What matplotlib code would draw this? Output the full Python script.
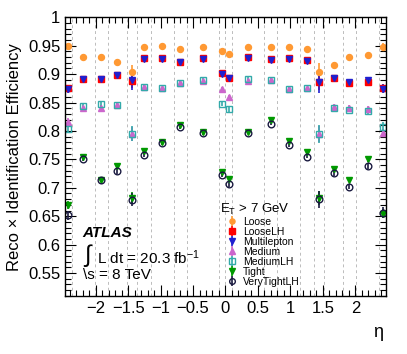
import numpy as np
import matplotlib
matplotlib.use("Agg")
import matplotlib.pyplot as plt
from matplotlib.ticker import MultipleLocator

plt.rcParams['font.family'] = ['Liberation Sans', 'DejaVu Sans']
plt.rcParams['mathtext.fontset'] = 'custom'
plt.rcParams['mathtext.rm'] = 'Liberation Sans'
plt.rcParams['mathtext.it'] = 'Liberation Sans:italic'

# eta bins
edges = [-2.47, -2.37, -2.01, -1.81, -1.52, -1.37, -1.15, -0.8, -0.6, -0.1, 0.0,
         0.1, 0.6, 0.8, 1.15, 1.37, 1.52, 1.81, 2.01, 2.37, 2.47]

loose = [0.950, 0.930, 0.931, 0.921, 0.904, 0.948, 0.950, 0.944, 0.948, 0.941,
         0.935, 0.948, 0.947, 0.948, 0.945, 0.904, 0.917, 0.930, 0.934, 0.948]
loose_err = [0.005, 0.003, 0.003, 0.005, 0.013, 0.003, 0.002, 0.002, 0.002, 0.003,
             0.003, 0.002, 0.002, 0.002, 0.003, 0.015, 0.005, 0.003, 0.004, 0.006]

looselh = [0.875, 0.892, 0.892, 0.898, 0.888, 0.928, 0.928, 0.922, 0.928, 0.902,
           0.894, 0.930, 0.926, 0.928, 0.925, 0.886, 0.894, 0.885, 0.886, 0.875]
looselh_err = [0.006, 0.004, 0.004, 0.005, 0.012, 0.004, 0.003, 0.003, 0.003, 0.004,
               0.004, 0.003, 0.003, 0.003, 0.004, 0.014, 0.005, 0.004, 0.005, 0.007]

multilepton = [0.874, 0.891, 0.891, 0.899, 0.889, 0.927, 0.927, 0.921, 0.927, 0.901,
               0.893, 0.929, 0.925, 0.927, 0.924, 0.887, 0.893, 0.886, 0.889, 0.874]
multilepton_err = [0.007, 0.004, 0.004, 0.005, 0.017, 0.004, 0.003, 0.003, 0.003, 0.004,
                   0.004, 0.003, 0.003, 0.003, 0.005, 0.020, 0.006, 0.004, 0.006, 0.008]

medium = [0.816, 0.840, 0.841, 0.845, 0.795, 0.878, 0.875, 0.885, 0.888, 0.873,
          0.860, 0.888, 0.890, 0.874, 0.875, 0.794, 0.842, 0.841, 0.839, 0.797]
medium_err = [0.006, 0.004, 0.004, 0.005, 0.012, 0.003, 0.003, 0.003, 0.003, 0.004,
              0.004, 0.003, 0.003, 0.003, 0.003, 0.014, 0.005, 0.004, 0.005, 0.007]

mediumlh = [0.804, 0.844, 0.847, 0.846, 0.795, 0.878, 0.875, 0.885, 0.890, 0.848,
            0.838, 0.892, 0.890, 0.874, 0.875, 0.794, 0.841, 0.837, 0.835, 0.807]
mediumlh_err = [0.007, 0.004, 0.004, 0.005, 0.013, 0.003, 0.003, 0.003, 0.003, 0.004,
                0.004, 0.003, 0.003, 0.003, 0.003, 0.016, 0.005, 0.004, 0.005, 0.008]

tight = [0.669, 0.754, 0.714, 0.738, 0.682, 0.765, 0.781, 0.810, 0.798, 0.728,
         0.716, 0.799, 0.819, 0.782, 0.763, 0.682, 0.733, 0.714, 0.750, 0.654]
tight_err = [0.007, 0.004, 0.004, 0.005, 0.010, 0.003, 0.003, 0.003, 0.003, 0.004,
             0.004, 0.003, 0.003, 0.003, 0.003, 0.013, 0.005, 0.004, 0.005, 0.008]

verytightlh = [0.652, 0.751, 0.714, 0.729, 0.679, 0.758, 0.778, 0.807, 0.796, 0.723,
               0.706, 0.797, 0.813, 0.775, 0.755, 0.680, 0.726, 0.702, 0.738, 0.656]
verytightlh_err = [0.008, 0.004, 0.004, 0.005, 0.011, 0.003, 0.003, 0.003, 0.003, 0.004,
                   0.004, 0.003, 0.003, 0.003, 0.003, 0.015, 0.005, 0.004, 0.005, 0.010]

edges = np.array(edges)
centers = 0.5 * (edges[1:] + edges[:-1])

fig = plt.figure(figsize=(4.07, 3.54), dpi=100)
ax = fig.add_axes([0.160, 0.163, 0.788, 0.788])

for e in edges[1:-1]:
    ax.axvline(e, color="#bcbcbc", lw=0.7, ls=(0, (3, 3)), zorder=0)

series = [
    ("Loose", loose, loose_err, "o", "#ff9933", True, 4.3),
    ("LooseLH", looselh, looselh_err, "s", "#ff0000", True, 4.3),
    ("Multilepton", multilepton, multilepton_err, "v", "#2020d0", True, 4.3),
    ("Medium", medium, medium_err, "^", "#cc66cc", True, 4.3),
    ("MediumLH", mediumlh, mediumlh_err, "s", "#33aaaa", False, 4.8),
    ("Tight", tight, tight_err, "v", "#009900", True, 4.3),
    ("VeryTightLH", verytightlh, verytightlh_err, "o", "#1a1a40", False, 4.8),
]

for name, vals, errs, mk, col, filled, ms in series:
    ax.errorbar(centers, vals, yerr=errs, fmt=mk, color=col, ms=ms,
                mfc=col if filled else "none", mec=col, mew=1.0,
                elinewidth=1.2, capsize=0, label=name)

ax.set_xlim(-2.47, 2.47)
ax.set_ylim(0.509, 1.0)
ax.xaxis.set_major_locator(MultipleLocator(0.5))
ax.xaxis.set_minor_locator(MultipleLocator(0.1))
ax.yaxis.set_major_locator(MultipleLocator(0.05))
ax.yaxis.set_minor_locator(MultipleLocator(0.01))
ax.tick_params(which="both", direction="in", top=True, right=True, labelsize=12)
ax.tick_params(which="major", length=8, width=0.8)
ax.tick_params(which="minor", length=4, width=0.8)
ax.set_xticks([-2, -1.5, -1, -0.5, 0, 0.5, 1, 1.5, 2])
ax.set_xticklabels(["\u22122", "\u22121.5", "\u22121", "\u22120.5", "0", "0.5", "1", "1.5", "2"])
ax.set_yticks([0.55, 0.6, 0.65, 0.7, 0.75, 0.8, 0.85, 0.9, 0.95, 1.0])
ax.set_yticklabels(["0.55", "0.6", "0.65", "0.7", "0.75", "0.8", "0.85", "0.9", "0.95", "1"])
for s in ax.spines.values():
    s.set_linewidth(1.0)

ax.set_ylabel("Reco \u00d7 Identification Efficiency", fontsize=12)
ax.yaxis.set_label_coords(-0.135, 0.5)
ax.text(0.99, -0.13, "\u03b7", transform=ax.transAxes, ha="right", va="center", fontsize=13)

ax.text(0.053, 0.227, "ATLAS", transform=ax.transAxes, fontsize=11,
        fontweight="bold", fontstyle="italic", va="center")
ax.text(0.055, 0.145, "$\\int$", transform=ax.transAxes, fontsize=17, va="center")
ax.text(0.10, 0.138, "L dt = 20.3 fb$^{-1}$", transform=ax.transAxes, fontsize=11, va="center")
ax.text(0.056, 0.076, "\\s = 8 TeV", transform=ax.transAxes, fontsize=11, va="center")

ax.text(0.483, 0.31, "E$_\\mathrm{T}$ > 7 GeV", transform=ax.transAxes, fontsize=9.5,
        va="center")
leg = ax.legend(loc="upper left", bbox_to_anchor=(0.505, 0.285), frameon=False,
                fontsize=7.5, handletextpad=0.5, labelspacing=0.0, borderpad=0.0,
                borderaxespad=0.0, handlelength=1.0, markerscale=0.85)

fig.savefig("out.png", dpi=100)
